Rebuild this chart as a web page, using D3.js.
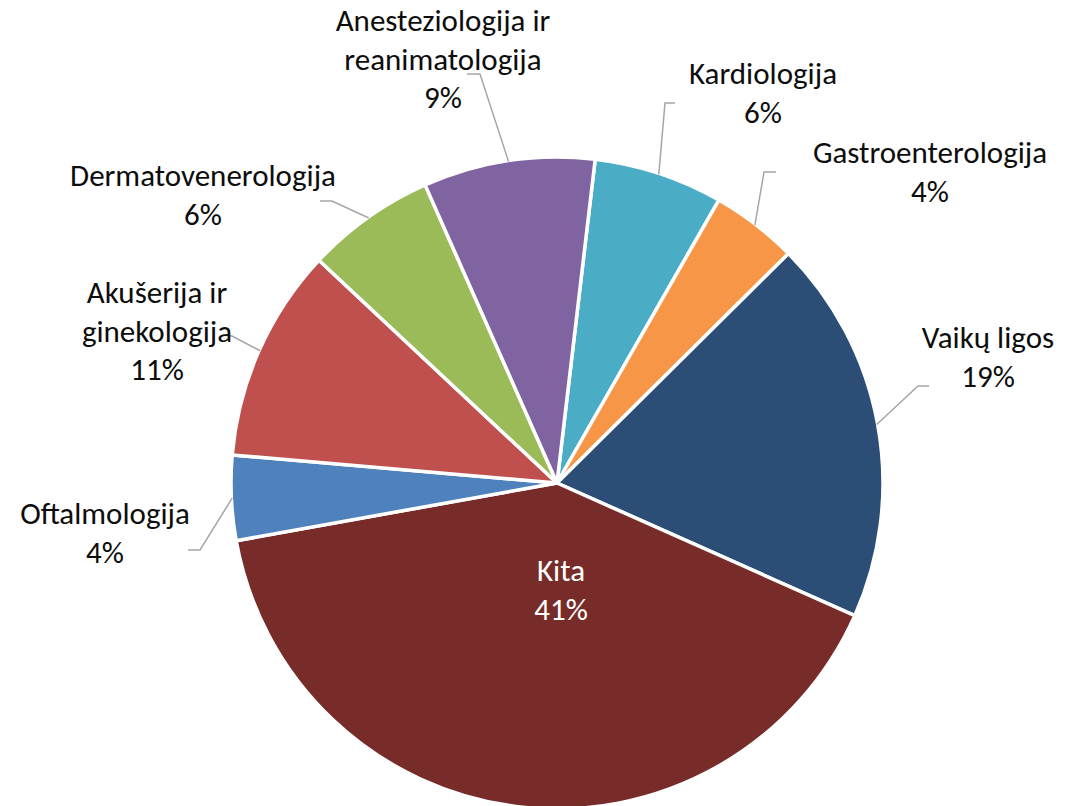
<!DOCTYPE html>
<html>
<head>
<meta charset="utf-8">
<script src="https://cdn.jsdelivr.net/npm/d3@7"></script>
<style>
  body { margin: 0; background: #fff; }
  text { font-family: Carlito, Calibri, Lato, sans-serif; font-size: 31px; }
</style>
</head>
<body>
<svg id="chart" width="1067" height="806"></svg>
<script>
// data, clockwise from the slice just right of 12 o'clock
let categories = ["Kardiologija", "Gastroenterologija", "Vaikų ligos", "Kita",
  "Oftalmologija", "Akušerija ir ginekologija", "Dermatovenerologija",
  "Anesteziologija ir reanimatologija"];
let values = [6.4, 4.3, 19.1, 40.5, 4.2, 10.6, 6.4, 8.5];
let percentLabels = ["6%", "4%", "19%", "41%", "4%", "11%", "6%", "9%"];

let colors = ["#4BACC6", "#F79646", "#2C4D75", "#772C2A", "#4F81BD",
  "#C0504D", "#9BBB59", "#8064A2"];

// label layout (Excel "best fit" spots), line breaks per label
let labelLayout = [
  { x: 763, y: 84, lines: ["Kardiologija"], lead: [[675, 103], [665, 103]] },
  { x: 930, y: 163, lines: ["Gastroenterologija"], lead: [[776, 172], [764, 172]] },
  { x: 988, y: 348, lines: ["Vaikų ligos"], lead: [[929, 386], [918, 386]] },
  { x: 561, y: 581, lines: ["Kita"], inside: true },
  { x: 105, y: 524, lines: ["Oftalmologija"], lead: [[188, 550], [200, 550]] },
  { x: 157, y: 303, lines: ["Akušerija ir", "ginekologija"], lead: [[222, 335], [232, 336]] },
  { x: 203, y: 186, lines: ["Dermatovenerologija"], lead: [[320, 201], [332, 201]] },
  { x: 443, y: 31, lines: ["Anesteziologija ir", "reanimatologija"], lead: [[467, 74], [480, 74]] }
];

let cx = 557, cy = 483, r = 326;
let lineH = 38.5;

let svg = d3.select("#chart");
let g = svg.append("g").attr("transform", "translate(" + cx + "," + cy + ")");

let pie = d3.pie().sort(null).value(d => d)
  .startAngle(6.73 * Math.PI / 180)
  .endAngle((6.73 + 360) * Math.PI / 180);
let arcs = pie(values);

let arc = d3.arc().innerRadius(0).outerRadius(r);

g.selectAll("path.slice")
  .data(arcs)
  .enter()
  .append("path")
  .attr("class", "slice")
  .attr("d", arc)
  .attr("fill", (d, i) => colors[i])
  .attr("stroke", "#fff")
  .attr("stroke-width", 3.5)
  .attr("stroke-linejoin", "round");

// leader lines: label side elbow, then to slice middle on the rim
arcs.forEach(function (d, i) {
  let L = labelLayout[i];
  if (!L.lead) return;
  let mid = (d.startAngle + d.endAngle) / 2;
  let end = [cx + (r - 1) * Math.sin(mid), cy - (r - 1) * Math.cos(mid)];
  let pts = L.lead.concat([end]);
  svg.append("path")
    .attr("d", d3.line()(pts))
    .attr("fill", "none")
    .attr("stroke", "#A6A6A6")
    .attr("stroke-width", 1.5);
});

// labels
arcs.forEach(function (d, i) {
  let L = labelLayout[i];
  let lines = L.lines.concat([percentLabels[i]]);
  let t = svg.append("text")
    .attr("text-anchor", "middle")
    .attr("fill", L.inside ? "#fff" : "#0d0d0d");
  lines.forEach(function (s, k) {
    t.append("tspan")
      .attr("x", L.x)
      .attr("y", L.y + k * lineH)
      .text(s);
  });
});
</script>
</body>
</html>
